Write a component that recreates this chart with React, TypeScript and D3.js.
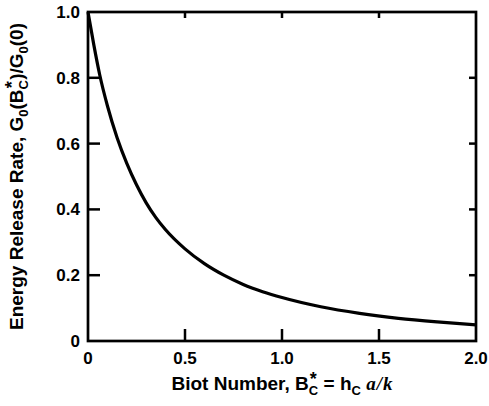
import React from "react";
import * as d3 from "d3";

// Data
const biot = [0.0, 0.03, 0.06, 0.1, 0.15, 0.2, 0.25, 0.3, 0.35, 0.4, 0.5, 0.6, 0.7, 0.8, 0.9, 1.0, 1.2, 1.4, 1.6, 1.8, 2.0];
const energy = [1.0, 0.9, 0.81, 0.715, 0.618, 0.54, 0.475, 0.42, 0.375, 0.338, 0.28, 0.235, 0.2, 0.172, 0.15, 0.132, 0.104, 0.084, 0.069, 0.058, 0.049];
const xTicks = [0, 0.5, 1.0, 1.5, 2.0];
const xTickLabels = ["0", "0.5", "1.0", "1.5", "2.0"];
const yTicks = [0, 0.2, 0.4, 0.6, 0.8, 1.0];
const yTickLabels = ["0", "0.2", "0.4", "0.6", "0.8", "1.0"];

const W = 489;
const H = 406;
const L = 88, R = 476, T = 12, B = 341;
const FONT = "'Liberation Sans', Arial, Helvetica, sans-serif";
const SERIF = "'Liberation Serif', 'Times New Roman', serif";

export default function App() {
  const x = d3.scaleLinear().domain([0, 2]).range([L, R]);
  const y = d3.scaleLinear().domain([0, 1]).range([B, T]);
  const pts: [number, number][] = biot.map((b, i) => [b, energy[i]]);
  const line = d3
    .line<[number, number]>()
    .x((d) => x(d[0]))
    .y((d) => y(d[1]))
    .curve(d3.curveMonotoneX);

  return (
    <svg
      width={W}
      height={H}
      style={{ position: "absolute", left: 0, top: 0, background: "#fff" }}
      fontFamily={FONT}
    >
      <rect x={0} y={0} width={W} height={H} fill="#fff" />
      {/* ticks */}
      {xTicks.slice(1, -1).map((t) => (
        <g key={"xt" + t}>
          <line x1={x(t)} x2={x(t)} y1={B} y2={B - 12} stroke="#000" strokeWidth={2.5} />
          <line x1={x(t)} x2={x(t)} y1={T} y2={T + 6} stroke="#000" strokeWidth={2.5} />
        </g>
      ))}
      {yTicks.slice(1, -1).map((t) => (
        <g key={"yt" + t}>
          <line x1={L} x2={L + 12} y1={y(t)} y2={y(t)} stroke="#000" strokeWidth={2.5} />
          <line x1={R} x2={R - 7} y1={y(t)} y2={y(t)} stroke="#000" strokeWidth={2.5} />
        </g>
      ))}
      {/* frame */}
      <rect x={L} y={T} width={R - L} height={B - T} fill="none" stroke="#000" strokeWidth={2.7} />
      {/* curve */}
      <path d={line(pts) || ""} fill="none" stroke="#000" strokeWidth={3.2} strokeLinejoin="round" />
      {/* tick labels */}
      {xTicks.map((t, i) => (
        <text key={"xl" + t} x={x(t)} y={364} textAnchor="middle" fontSize={17} fontWeight="bold">
          {xTickLabels[i]}
        </text>
      ))}
      {yTicks.map((t, i) => (
        <text key={"yl" + t} x={80} y={y(t) + 6} textAnchor="end" fontSize={17} fontWeight="bold">
          {yTickLabels[i]}
        </text>
      ))}
      {/* x axis label */}
      <text x={282} y={390} textAnchor="middle" fontSize={19} fontWeight="bold">
        <tspan>Biot Number, B</tspan>
        <tspan fontSize={13} dy={5}>C</tspan>
        <tspan fontSize={18} dx={-8.3} dy={-10}>*</tspan>
        <tspan dx={1.5} dy={5}> = h</tspan>
        <tspan fontSize={13} dy={5}>C</tspan>
        <tspan dy={-5}> </tspan>
        <tspan fontFamily={SERIF} fontStyle="italic">a</tspan>
        <tspan fontFamily={SERIF} fontStyle="italic" dx={1}>/</tspan>
        <tspan fontFamily={SERIF} fontStyle="italic" dx={1}>k</tspan>
      </text>
      {/* y axis label */}
      <text
        transform={`translate(23, ${(T + B) / 2}) rotate(-90)`}
        textAnchor="middle"
        fontSize={19}
        fontWeight="bold"
      >
        <tspan>Energy Release Rate, G</tspan>
        <tspan fontSize={13} dy={5}>0</tspan>
        <tspan dy={-5}>(B</tspan>
        <tspan fontSize={13} dy={5}>C</tspan>
        <tspan fontSize={18} dx={-8.3} dy={-10}>*</tspan>
        <tspan dx={1.5} dy={5}>)/G</tspan>
        <tspan fontSize={13} dy={5}>0</tspan>
        <tspan dy={-5}>(0)</tspan>
      </text>
    </svg>
  );
}
